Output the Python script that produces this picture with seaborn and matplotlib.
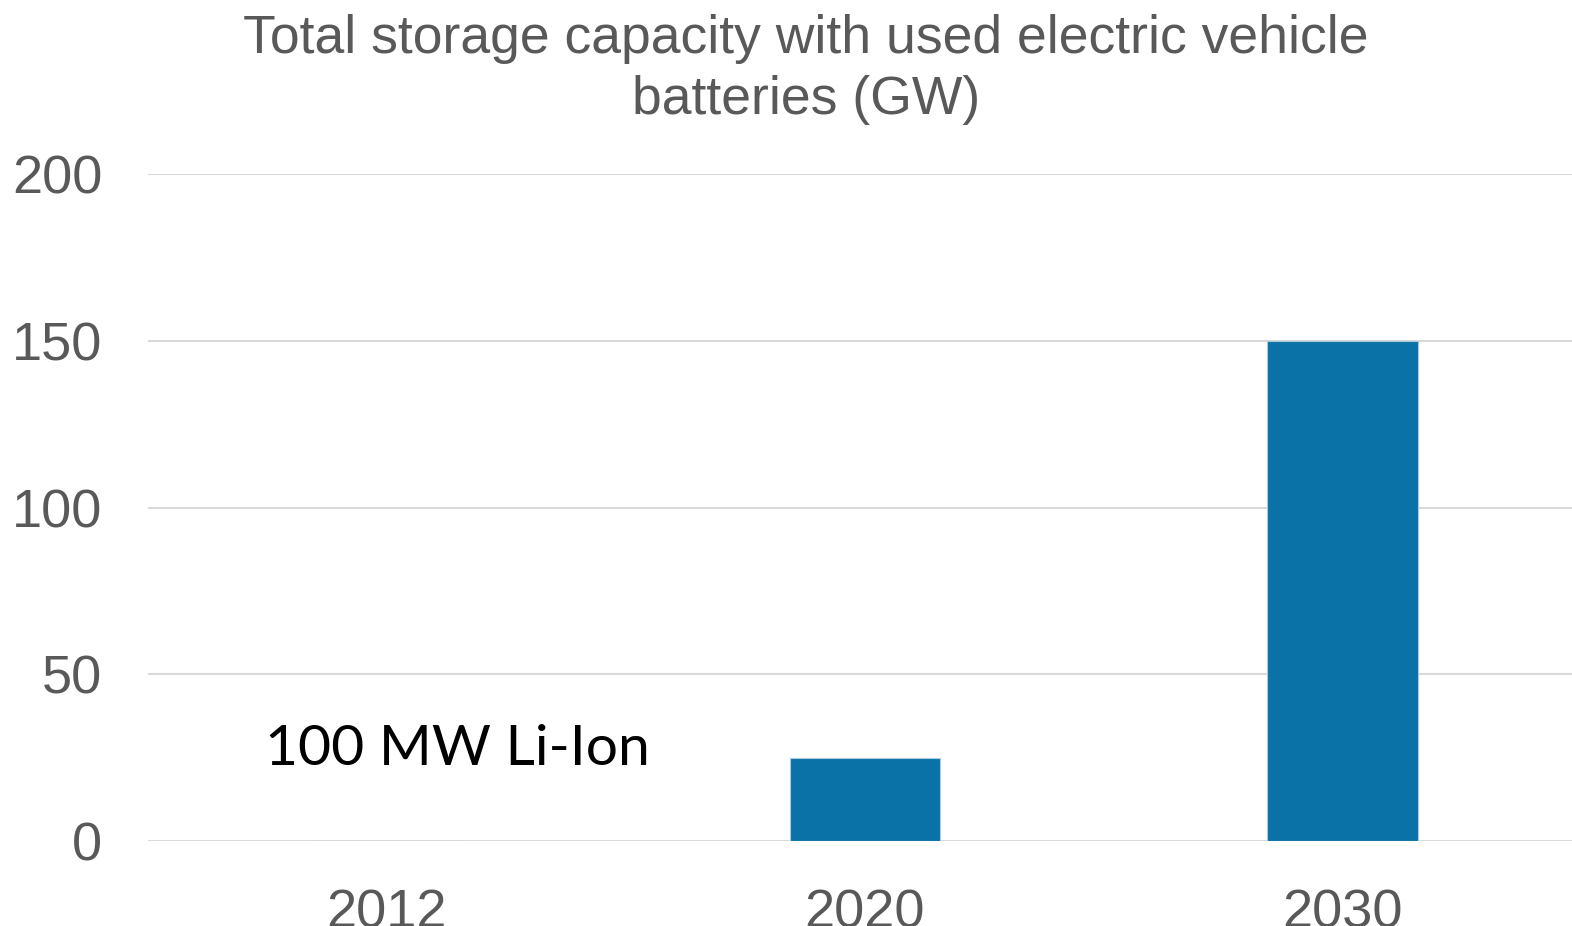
import matplotlib
matplotlib.use("Agg")
import matplotlib.pyplot as plt
import seaborn as sns
import pandas as pd

years = ["2012", "2020", "2030"]
capacity_gw = [0.1, 25, 150]
y_ticks = [0, 50, 100, 150, 200]
title = "Total storage capacity with used electric vehicle\nbatteries (GW)"
note = "100 MW Li-Ion"

sns.set_style("white")
plt.rcParams["font.family"] = ["Liberation Sans", "DejaVu Sans"]

GREY = "#595959"
BLUE = "#0A72A6"

df = pd.DataFrame({"year": years, "capacity": capacity_gw})

fig = plt.figure(figsize=(15.72, 9.26), dpi=100)
ax = fig.add_axes([148 / 1572, 85 / 926, 1 - 148 / 1572, 667 / 926])

sns.barplot(data=df, x="year", y="capacity", color=BLUE, saturation=1,
            width=0.315, edgecolor="#a9cbe0", linewidth=0.8, ax=ax)

ax.set_ylim(0, 200)
ax.set_xlim(-0.5, 2.48)
ax.set_yticks(y_ticks)
ax.yaxis.grid(True, color="#d9d9d9", linewidth=1.5)
ax.set_axisbelow(True)
for s in ax.spines.values():
    s.set_visible(False)
ax.set_xlabel("")
ax.set_ylabel("")
ax.tick_params(axis="y", length=0, labelsize=39, labelcolor=GREY, pad=33)
ax.tick_params(axis="x", length=0, labelsize=39, labelcolor=GREY, pad=34)

ax.text(-0.255, 22.7, note, fontsize=41, color="black", family=["Lato", "DejaVu Sans"],
        ha="left", va="baseline")

fig.text(806 / 1572, 1 - 14 / 926, title, ha="center", va="top", fontsize=38.5,
         color=GREY, linespacing=1.28)

fig.savefig("out.png", dpi=100)
